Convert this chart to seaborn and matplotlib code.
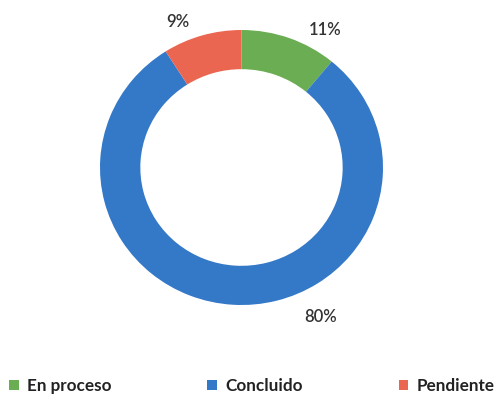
import matplotlib
matplotlib.use("Agg")
import matplotlib.pyplot as plt
import seaborn as sns

# Estado de las tareas
categories = ["En proceso", "Concluido", "Pendiente"]
values = [11, 80, 9]
colors = ["#6aad52", "#3478c8", "#eb6650"]
# label anchor points (data coordinates, ring radius = 1)
label_xy = [(0.59, 1.0), (0.56, -1.09), (-0.45, 1.06)]

sns.set_theme(style="white")
plt.rcParams["font.family"] = ["Lato", "DejaVu Sans"]

fig = plt.figure(figsize=(4.96, 4.0), dpi=100)
ax = fig.add_axes([100 / 496, 95 / 400, 283 / 496, 275 / 400])

wedges, _ = ax.pie(
    values,
    colors=colors,
    startangle=90,
    counterclock=False,
    radius=1.0,
    wedgeprops=dict(width=0.285, edgecolor="none"),
)
ax.set_aspect("auto")
ax.set_xlim(-1, 1)
ax.set_ylim(-1, 1)
ax.axis("off")

for v, (x, y) in zip(values, label_xy):
    ax.text(x, y, f"{v}%", ha="center", va="center", fontsize=12,
            fontweight="semibold", color="#333333", clip_on=False)

leg = fig.legend(
    wedges, categories,
    loc="center", bbox_to_anchor=(0.508, 0.035), ncol=3, frameon=False,
    prop=dict(size=12.3, weight="bold"),
    handlelength=0.55, handleheight=0.55, handletextpad=0.5,
    columnspacing=5.6, borderaxespad=0, borderpad=0,
)
for t in leg.get_texts():
    t.set_color("#222222")

fig.savefig("out.png", dpi=100)
